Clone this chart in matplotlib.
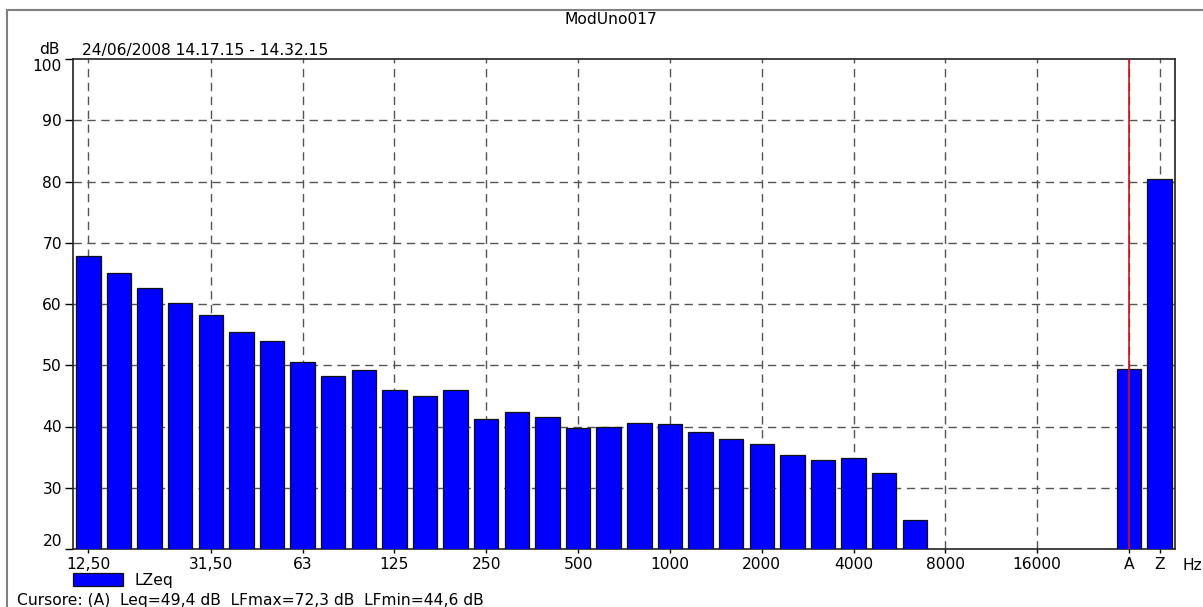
import numpy as np
import matplotlib
matplotlib.use("Agg")
import matplotlib.pyplot as plt
from matplotlib.lines import Line2D

plt.rcParams['font.family'] = ['DejaVu Sans']

# ---- data ----
bands = ["12.5", "16", "20", "25", "31.5", "40", "50", "63", "80", "100",
         "125", "160", "200", "250", "315", "400", "500", "630", "800", "1000",
         "1250", "1600", "2000", "2500", "3150", "4000", "5000", "6300", "8000",
         "10000", "12500", "16000", "20000"]
lzeq = [67.9, 65.1, 62.6, 60.1, 58.2, 55.4, 54.0, 50.5, 48.2, 49.2,
        46.0, 45.0, 46.0, 41.3, 42.3, 41.5, 39.8, 40.0, 40.6, 40.4,
        39.1, 37.9, 37.1, 35.4, 34.6, 34.8, 32.4, 24.8, np.nan,
        np.nan, np.nan, np.nan, np.nan]
totals = ["A", "Z"]
lzeq_totals = [49.4, 80.4]
tick_bands = ["12.5", "31.5", "63", "125", "250", "500", "1000", "2000",
              "4000", "8000", "16000"]
tick_labels = ["12,50", "31,50", "63", "125", "250", "500", "1000", "2000",
               "4000", "8000", "16000"]
y_ticks = [20, 30, 40, 50, 60, 70, 80, 90, 100]

FS = 11.2
W, H = 1203, 607
fig = plt.figure(figsize=(W / 100, H / 100), dpi=100)
ax = fig.add_axes([73 / W, 1 - 549 / H, (1175 - 73) / W, (549 - 59) / H])

n = len(bands)
x_bands = np.arange(n)
x_totals = np.arange(len(totals)) + n + 1
x_all = np.concatenate([x_bands, x_totals])
vals = np.concatenate([np.array(lzeq, dtype=float), np.array(lzeq_totals)])

blue = "#0000ff"
bars = ax.bar(x_all, vals, width=0.8, color=blue, edgecolor="#111111",
              linewidth=0.9, zorder=3, label="LZeq")

ax.set_xlim(-0.5, x_totals[-1] + 0.5)
ax.set_ylim(20, 100)

# ticks
tick_pos = [bands.index(b) for b in tick_bands] + list(x_totals)
ax.set_xticks(tick_pos)
ax.set_xticklabels(tick_labels + totals)
ax.set_yticks(y_ticks)
ax.tick_params(axis='x', length=3, width=1, pad=3, labelsize=FS, colors="#000000")
ax.tick_params(axis='y', length=6, width=1, pad=2, labelsize=FS)
ylabels = ax.get_yticklabels()
ylabels[-1].set_va("top")
ylabels[0].set_va("bottom")

# grid
grid_kw = dict(color="#555555", linewidth=1.0, linestyle=(0, (6, 4)), zorder=1)
for y in y_ticks[1:-1]:
    ax.axhline(y, **grid_kw)
for xp in tick_pos:
    ax.axvline(xp, **grid_kw)

# cursor on A
ax.axvline(x_totals[0], color="#d0101a", linewidth=1.2, zorder=5)

for s in ax.spines.values():
    s.set_color("#222222")
    s.set_linewidth(1.2)

# texts
fig.text(611 / W, 1 - 20 / H, "ModUno017", ha="center", va="center", fontsize=FS)
fig.text(49 / W, 1 - 50 / H, "dB", ha="center", va="center", fontsize=FS)
fig.text(82 / W, 1 - 50 / H, "24/06/2008 14.17.15 - 14.32.15", ha="left",
         va="center", fontsize=FS)
fig.text(1183 / W, 1 - 565 / H, "Hz", ha="left", va="center", fontsize=FS)
fig.text(17 / W, 1 - 600 / H, "Cursore: (A)  Leq=49,4 dB  LFmax=72,3 dB  LFmin=44,6 dB",
         ha="left", va="center", fontsize=FS)

# legend
fig.legend(handles=[bars], labels=["LZeq"], loc="upper left",
           bbox_to_anchor=(73 / W, 1 - 573 / H), frameon=False,
           fontsize=FS, handlelength=3.2, handleheight=0.85,
           handletextpad=0.75, borderpad=0, borderaxespad=0)

# outer frame
fig.add_artist(Line2D([7 / W, 1], [1 - 10 / H, 1 - 10 / H], transform=fig.transFigure,
                      color="#808080", linewidth=1.5))
fig.add_artist(Line2D([7 / W, 7 / W], [0, 1 - 10 / H], transform=fig.transFigure,
                      color="#808080", linewidth=1.5))

fig.savefig("out.png", dpi=100)
